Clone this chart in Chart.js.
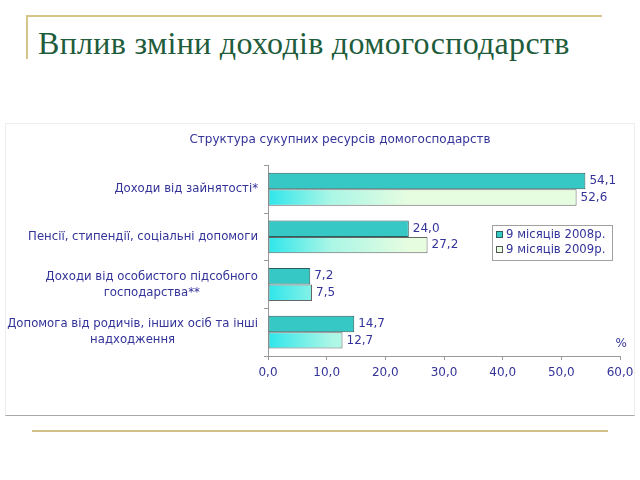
<!DOCTYPE html>
<html lang="uk">
<head>
<meta charset="UTF-8">
<title>Вплив зміни доходів домогосподарств</title>
<script src="https://cdn.jsdelivr.net/npm/chart.js"></script>
<style>
  body { margin: 0; background: #fff; }
  .slide { position: relative; width: 640px; height: 480px; overflow: hidden; }
  .top-line { position: absolute; left: 26px; top: 15px; width: 576px; height: 2px; background: #d6c489; }
  .side-line { position: absolute; left: 26px; top: 15px; width: 2px; height: 44px; background: #d6c489; }
  .bottom-line { position: absolute; left: 32px; top: 430px; width: 576px; height: 2px; background: #d2bf85; }
  h1 {
    position: absolute; left: 38px; top: 25px; margin: 0;
    font-family: "Liberation Serif", "DejaVu Serif", serif;
    font-weight: normal; font-size: 32px; letter-spacing: 0.3px;
    color: #1e5c3c; white-space: nowrap;
  }
  .box {
    position: absolute; left: 5px; top: 123px; width: 628px; height: 291px;
    border: 1px solid #eeeeee; border-bottom: 1px solid #a8a8a8;
  }
  canvas { position: absolute; left: 0; top: 0; }
</style>
</head>
<body>
<div class="slide">
  <div class="top-line"></div>
  <div class="side-line"></div>
  <h1>Вплив зміни доходів домогосподарств</h1>
  <div class="box"></div>
  <div class="bottom-line"></div>
  <canvas id="chart" width="640" height="480"></canvas>
</div>
<script>
  // chart data
  const categories = [
    ["Доходи від зайнятості*"],
    ["Пенсії, стипендії, соціальні допомоги"],
    ["Доходи від особистого підсобного", "господарства**"],
    ["Допомога від родичів, інших осіб та інші", "надходження"]
  ];
  const seriesNames = ["9 місяців 2008р.", "9 місяців 2009р."];
  const values2008 = [54.1, 24.0, 7.2, 14.7];
  const values2009 = [52.6, 27.2, 7.5, 12.7];
  const xTicks = [0, 10, 20, 30, 40, 50, 60];

  const textColor = '#333399';
  const fontFamily = '"DejaVu Sans", Verdana, sans-serif';
  const fmt = v => v.toFixed(1).replace('.', ',');

  function gradient2009(ctx) {
    const area = ctx.chart.chartArea;
    if (!area) return '#d8fbd8';
    const g = ctx.chart.ctx.createLinearGradient(area.left, 0, area.left + 140, 0);
    g.addColorStop(0, '#2ee6ea');
    g.addColorStop(0.45, '#aaf6e6');
    g.addColorStop(1, '#e6fde0');
    return g;
  }

  // category labels: right aligned block, lines centred inside it
  const categoryLabels = {
    id: 'categoryLabels',
    afterDraw(chart) {
      const c = chart.ctx;
      const y = chart.scales.y;
      const right = chart.chartArea.left - 10;
      c.save();
      c.font = '11.7px ' + fontFamily;
      c.fillStyle = textColor;
      c.textBaseline = 'middle';
      c.textAlign = 'center';
      categories.forEach((lines, i) => {
        const w = Math.max(...lines.map(l => c.measureText(l).width));
        const cx = right - w / 2;
        const cy = y.getPixelForValue(i);
        const lh = 16;
        lines.forEach((l, k) => {
          c.fillText(l, cx, cy + (k - (lines.length - 1) / 2) * lh);
        });
      });
      c.restore();
    }
  };

  // value labels at bar ends, legend box and unit
  const extras = {
    id: 'extras',
    afterDatasetsDraw(chart) {
      const c = chart.ctx;
      const area = chart.chartArea;
      c.save();
      c.font = '12px ' + fontFamily;
      c.fillStyle = textColor;
      c.textBaseline = 'middle';
      c.textAlign = 'left';
      chart.data.datasets.forEach((ds, di) => {
        chart.getDatasetMeta(di).data.forEach((bar, i) => {
          c.fillText(fmt(ds.data[i]), bar.x + 4, bar.y);
        });
      });

      c.textAlign = 'right';
      c.fillText('%', area.right + 7, area.bottom - 12);

      // legend
      const lx = 492, ly = 225, lw = 120, lh = 35;
      c.strokeStyle = '#a0a0a0';
      c.lineWidth = 1;
      c.fillStyle = '#ffffff';
      c.fillRect(lx, ly, lw, lh);
      c.strokeRect(lx + 0.5, ly + 0.5, lw, lh);
      const fills = ['#35c8c4', '#e6fde0'];
      const strokes = ['#2a5f5e', '#555555'];
      c.font = '11.7px ' + fontFamily;
      seriesNames.forEach((name, i) => {
        const cy = ly + 10 + i * 15;
        c.fillStyle = fills[i];
        c.fillRect(lx + 4.5, cy - 3.5, 6, 6);
        c.strokeStyle = strokes[i];
        c.strokeRect(lx + 4.5, cy - 3.5, 6, 6);
        c.fillStyle = textColor;
        c.textAlign = 'left';
        c.fillText(name, lx + 14, cy);
      });
      c.restore();
    }
  };

  new Chart(document.getElementById('chart'), {
    type: 'bar',
    data: {
      labels: categories,
      datasets: [
        {
          label: seriesNames[0],
          data: values2008,
          backgroundColor: '#35c8c4',
          borderColor: '#2a5f5e',
          borderWidth: 1,
          borderSkipped: false
        },
        {
          label: seriesNames[1],
          data: values2009,
          backgroundColor: gradient2009,
          borderColor: '#666666',
          borderWidth: 1,
          borderSkipped: false
        }
      ]
    },
    options: {
      indexAxis: 'y',
      responsive: false,
      animation: false,
      events: [],
      categoryPercentage: 0.69,
      barPercentage: 1.0,
      layout: { padding: { left: 60, right: 20, top: 133, bottom: 94 } },
      scales: {
        x: {
          min: xTicks[0],
          max: xTicks[xTicks.length - 1],
          afterBuildTicks: s => { s.ticks = xTicks.map(v => ({ value: v })); },
          afterFit: s => { s.height = 30; },
          grid: { drawOnChartArea: false, tickLength: 4, color: '#999999' },
          border: { color: '#999999' },
          ticks: {
            color: textColor,
            font: { family: fontFamily, size: 12 },
            padding: 6,
            callback: v => fmt(v)
          }
        },
        y: {
          afterFit: s => { s.width = 208; },
          grid: { drawOnChartArea: false, tickLength: 4, offset: true, color: '#999999' },
          border: { color: '#999999' },
          ticks: { display: false }
        }
      },
      plugins: {
        legend: { display: false },
        tooltip: { enabled: false },
        title: {
          display: true,
          text: 'Структура сукупних ресурсів домогосподарств',
          color: textColor,
          font: { family: fontFamily, size: 12, weight: 'normal' },
          padding: { top: 0, bottom: 18 }
        }
      }
    },
    plugins: [categoryLabels, extras]
  });
</script>
</body>
</html>
